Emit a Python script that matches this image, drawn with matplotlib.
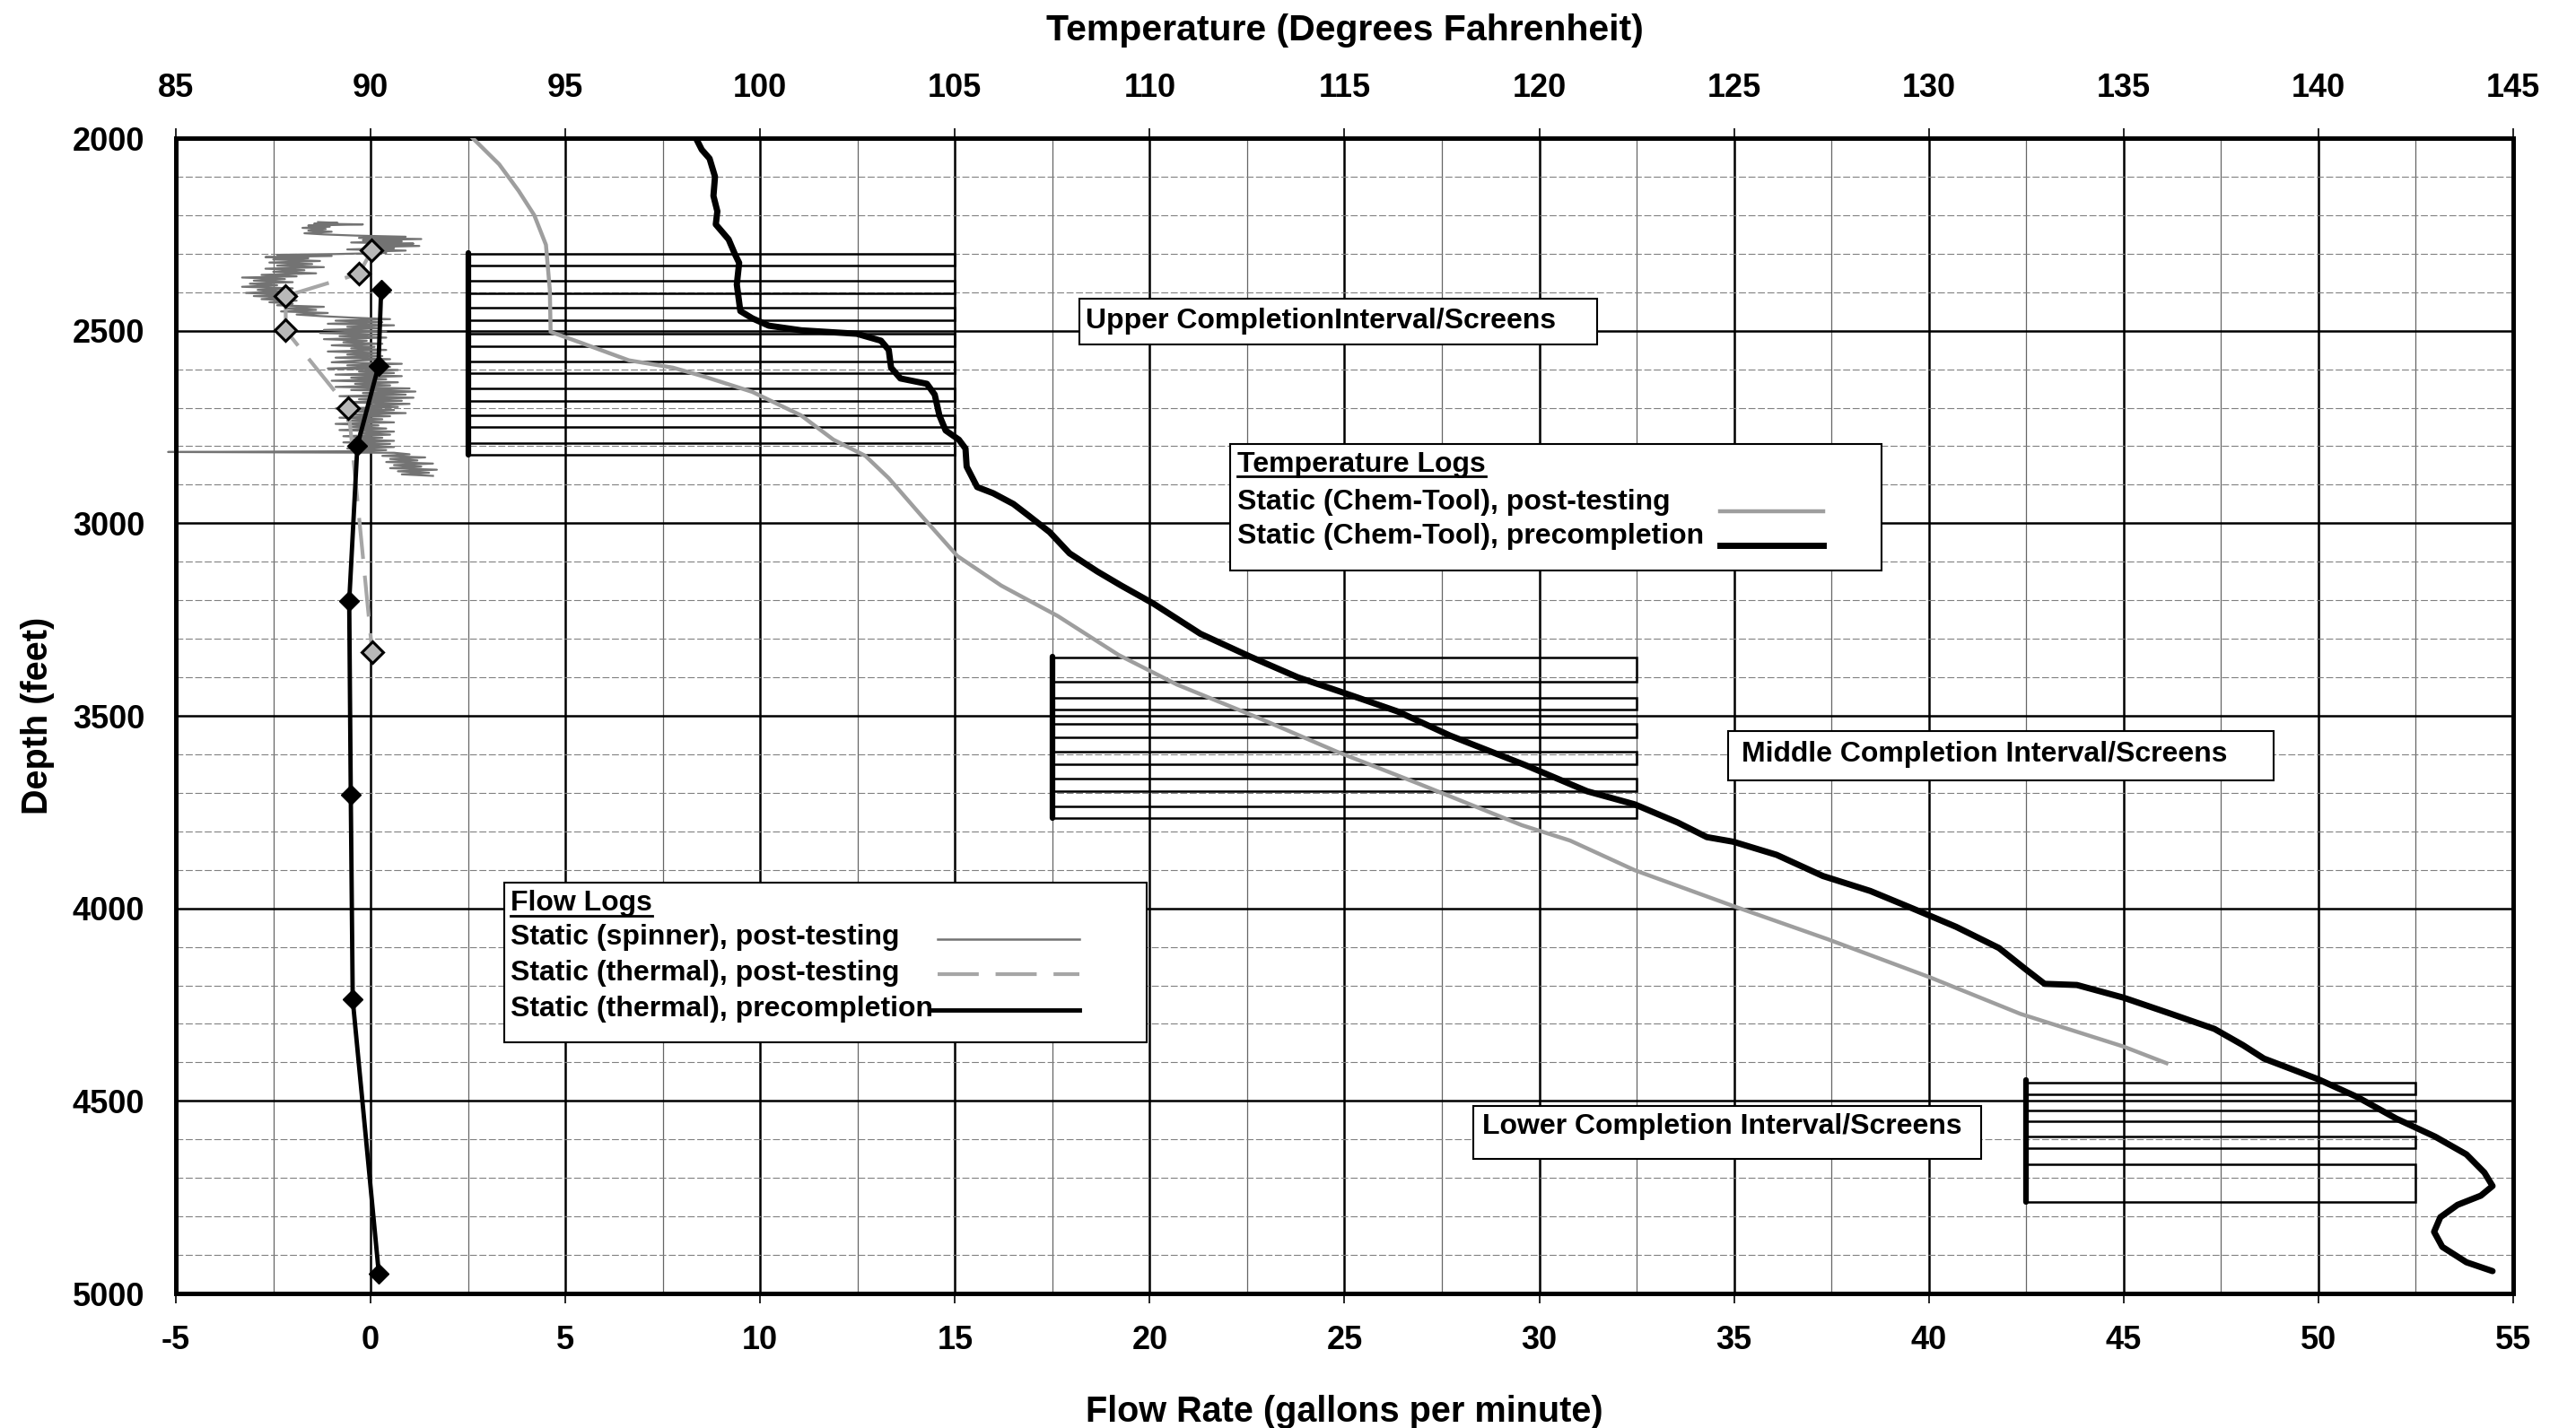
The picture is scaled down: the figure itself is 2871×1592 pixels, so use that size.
"""
Well log chart: flow logs (bottom axis) and temperature logs (top axis)
against depth, with the completion intervals / screens drawn in.
"""

import matplotlib
matplotlib.use('Agg')
import matplotlib.pyplot as plt
from matplotlib.patches import Rectangle

plt.rcParams['font.family'] = ['Liberation Sans', 'DejaVu Sans']
plt.rcParams['font.weight'] = 'bold'
plt.rcParams['axes.unicode_minus'] = False

# ---- flow logs (gallons per minute) ----
spinner_depth = [
    2218, 2220, 2222, 2224, 2227, 2230, 2233, 2236, 2240, 2243, 2247, 2250,
    2253, 2256, 2259, 2262, 2265, 2268, 2271, 2274, 2277, 2280, 2283, 2286,
    2289, 2292, 2295, 2298, 2301, 2303, 2306, 2309, 2312, 2315, 2319, 2323,
    2327, 2331, 2335, 2339, 2343, 2347, 2351, 2355, 2359, 2362, 2366, 2370,
    2374, 2378, 2382, 2386, 2390, 2394, 2398, 2402, 2406, 2410, 2414, 2418,
    2422, 2426, 2430, 2434, 2438, 2442, 2446, 2450, 2454, 2458, 2462, 2466,
    2470, 2474, 2478, 2482, 2486, 2490, 2494, 2498, 2502, 2506, 2510, 2514,
    2518, 2522, 2526, 2530, 2534, 2538, 2542, 2546, 2550, 2554, 2558, 2562,
    2566, 2570, 2574, 2578, 2582, 2586, 2590, 2594, 2598, 2602, 2606, 2610,
    2614, 2618, 2622, 2626, 2630, 2634, 2638, 2642, 2646, 2650, 2654, 2658,
    2662, 2666, 2670, 2674, 2678, 2682, 2686, 2690, 2694, 2698, 2702, 2706,
    2710, 2714, 2718, 2722, 2726, 2730, 2734, 2738, 2742, 2746, 2750, 2754,
    2758, 2762, 2766, 2770, 2774, 2778, 2782, 2786, 2790, 2794, 2798, 2802,
    2806, 2810, 2813, 2815, 2817, 2821, 2825, 2829, 2833, 2837, 2841, 2845,
    2849, 2853, 2857, 2861, 2865, 2869, 2873, 2877,
]
spinner_flow = [
    -1.35, -0.85, -1.45, -0.2, -1.6, -1.05, -1.75, -1.15, -1.6, -1.0, -1.7, -1.2,
    -0.4, 0.9, -0.3, 1.3, -0.2, 0.8, -0.5, 1.1, 0.1, 1.25, -0.1, 0.6,
    -0.6, 0.9, -0.2, 0.4, -0.9, -2.4, -1.0, -2.7, -1.6, -2.5, -1.3, -2.6,
    -1.5, -2.4, -1.2, -2.7, -1.7, -2.5, -1.4, -2.8, -1.9, -3.3, -2.2, -3.0,
    -2.0, -3.1, -2.4, -3.3, -2.0, -2.9, -2.3, -3.2, -1.9, -3.0, -2.1, -2.8,
    -1.9, -2.6, -2.0, -2.4, -1.2, -2.2, -1.4, -2.3, -1.1, -1.9, -1.3, -0.5,
    0.5, -0.9, 0.3, -1.1, 0.6, -0.6, 0.2, -1.2, 0.4, -1.3, 0.2, -0.8,
    0.4, -1.2, -0.1, -0.7, 0.3, -1.0, 0.1, -0.5, 0.4, -1.1, 0.2, -0.6,
    0.3, -0.9, 0.5, -0.4, -1.0, 0.8, -0.6, 0.5, -1.1, 0.7, -0.3, 0.6,
    -0.9, 0.8, -0.5, 0.4, -1.0, 0.7, -0.4, 0.5, -0.9, 1.0, -0.5, 1.15,
    -0.2, 0.9, -0.8, 1.1, -0.3, 0.8, -0.7, 1.0, -0.1, 0.7, -0.9, 0.6,
    -0.4, 0.9, -0.6, 0.5, -0.8, 0.3, -0.6, 0.6, -0.9, 0.2, -0.5, 0.4,
    -0.8, 0.6, -0.3, 0.5, -0.7, 0.3, -0.5, 0.6, -0.7, 0.5, -0.4, 0.6,
    -0.6, 0.4, -0.2, -5.2, 0.6, 1.0, 0.3, 1.4, 0.5, 1.2, 0.4, 1.6,
    0.6, 1.3, 0.5, 1.7, 0.7, 1.5, 0.8, 1.6,
]

thermal_post_depth = [2292, 2352, 2410, 2499, 2701, 3334]
thermal_post_flow = [0.03, -0.30, -2.18, -2.18, -0.57, 0.04]

thermal_pre_depth = [2393, 2592, 2798, 3203, 3706, 4237, 4948]
thermal_pre_flow = [0.27, 0.20, -0.34, -0.55, -0.51, -0.46, 0.21]

# ---- temperature logs (degrees F) ----
temp_post_depth = [
    2000, 2068, 2137, 2200, 2277, 2394, 2503, 2531, 2577, 2596, 2620, 2659,
    2720, 2783, 2825, 2883, 2976, 3085, 3162, 3241, 3342, 3419, 3505, 3593,
    3675, 3784, 3824, 3901, 3994, 4080, 4180, 4274, 4359, 4402,
]
temp_post_temp = [
    92.62, 93.3, 93.8, 94.2, 94.5, 94.6, 94.62, 95.39, 96.63, 97.76, 98.59, 99.8,
    101.05, 101.88, 102.7, 103.3, 104.1, 105.06, 106.19, 107.64, 109.2, 110.7, 112.78, 114.8,
    116.87, 119.55, 120.79, 122.45, 124.98, 127.4, 130.05, 132.35, 135.0, 136.1,
]

temp_pre_depth = [
    2000, 2030, 2053, 2100, 2150, 2190, 2224, 2263, 2301, 2324, 2380, 2449,
    2468, 2487, 2499, 2508, 2526, 2550, 2596, 2624, 2638, 2666, 2720, 2759,
    2783, 2806, 2853, 2906, 2922, 2950, 2981, 3023, 3078, 3125, 3162, 3209,
    3287, 3346, 3400, 3442, 3489, 3551, 3628, 3696, 3730, 3777, 3815, 3827,
    3861, 3916, 3955, 4001, 4048, 4103, 4157, 4196, 4199, 4232, 4274, 4313,
    4355, 4390, 4444, 4490, 4546, 4593, 4639, 4686, 4721, 4746, 4770, 4802,
    4840, 4879, 4919, 4942,
]
temp_pre_temp = [
    98.35, 98.5, 98.7, 98.84, 98.8, 98.9, 98.86, 99.19, 99.35, 99.46, 99.4, 99.49,
    99.8, 100.22, 101.05, 102.48, 103.1, 103.3, 103.36, 103.6, 104.28, 104.48, 104.6, 104.76,
    105.1, 105.27, 105.3, 105.57, 105.98, 106.5, 106.9, 107.43, 107.94, 108.65, 109.27, 110.1,
    111.3, 112.57, 113.8, 115.03, 116.37, 117.7, 119.64, 121.23, 122.45, 123.55, 124.3, 124.98,
    126.09, 127.28, 128.5, 129.6, 130.7, 131.8, 132.47, 132.97, 133.8, 135.0, 136.22, 137.33,
    138.06, 138.6, 140.0, 141.0, 142.0, 143.0, 143.8, 144.26, 144.47, 144.17, 143.57, 143.13,
    142.97, 143.18, 143.8, 144.47,
]

# ---- completion intervals (flow-axis extent, bar top/bottom, screens) ----
upper_extent = (2.5, 15.0)
upper_bar = (2299, 2823)
upper_screens = [(2301, 2331), (2370, 2402), (2441, 2472), (2507, 2540),
                 (2581, 2610), (2649, 2682), (2720, 2751), (2792, 2823)]

middle_extent = (17.5, 32.5)
middle_bar = (3346, 3766)
middle_screens = [(3349, 3412), (3454, 3483), (3522, 3555), (3594, 3625),
                  (3664, 3695), (3735, 3765)]

lower_extent = (42.5, 52.5)
lower_bar = (4446, 4762)
lower_screens = [(4452, 4482), (4524, 4553), (4593, 4623), (4664, 4763)]

TICK_FS = 26
TITLE_FS = 28.5
BOX_FS = 23


def draw_completion(ax, extent, bar, screens):
    x0, x1 = extent
    for top, bottom in screens:
        ax.add_patch(Rectangle((x0, top), x1 - x0, bottom - top, fill=False,
                               ec='black', lw=1.8, zorder=3))
    ax.plot([x0, x0], bar, color='black', lw=4.5, solid_capstyle='round', zorder=3)


def label_box(ax, x0, x1, top, bottom, text, tx, ty):
    ax.add_patch(Rectangle((x0, top), x1 - x0, bottom - top, fc='white',
                           ec='black', lw=1.5, zorder=5))
    ax.text(tx, ty, text, fontsize=BOX_FS, fontweight='bold', ha='left',
            va='center', zorder=6)


def underlined(ax, fig, x, y, text, line_depth):
    t = ax.text(x, y, text, fontsize=BOX_FS, fontweight='bold', ha='left',
                va='center', zorder=6)
    fig.canvas.draw()
    bb = t.get_window_extent().transformed(ax.transData.inverted())
    ax.plot([bb.x0, bb.x1], [line_depth, line_depth], color='black', lw=2,
            zorder=6)


def main():
    fig = plt.figure(figsize=(28.71, 15.92), dpi=100)
    ax = fig.add_axes([196 / 2871, 1 - 1442 / 1592, 2605 / 2871, 1288 / 1592])

    ax.set_xlim(-5, 55)
    ax.set_ylim(5000, 2000)
    ax.set_xticks(range(-5, 56, 5))
    ax.set_xticks([x + 2.5 for x in range(-5, 55, 5)], minor=True)
    ax.set_yticks(range(2000, 5001, 500))
    ax.set_yticks(range(2100, 5000, 100), minor=True)
    ax.set_axisbelow(True)
    ax.grid(which='major', color='black', lw=1.8)
    ax.grid(which='minor', axis='x', color='0.4', lw=0.9)
    ax.grid(which='minor', axis='y', color='0.5', lw=0.8, ls=(0, (7, 2.5)))
    ax.tick_params(which='minor', length=0)
    ax.tick_params(axis='x', which='major', length=8, width=1.2, direction='out',
                   labelsize=TICK_FS, pad=17)
    ax.tick_params(axis='y', which='major', length=0, labelsize=TICK_FS, pad=25)
    for sp in ax.spines.values():
        sp.set_linewidth(3.5)
    for lab in ax.get_xticklabels() + ax.get_yticklabels():
        lab.set_fontweight('bold')

    ax.set_xlabel('Flow Rate (gallons per minute)', fontsize=TITLE_FS,
                  fontweight='bold', labelpad=31)
    ax.set_ylabel('Depth (feet)', fontsize=TITLE_FS, fontweight='bold')
    ax.yaxis.set_label_coords(-0.052, 0.5)

    # completion intervals
    draw_completion(ax, upper_extent, upper_bar, upper_screens)
    draw_completion(ax, middle_extent, middle_bar, middle_screens)
    draw_completion(ax, lower_extent, lower_bar, lower_screens)

    # flow logs
    ax.plot(spinner_flow, spinner_depth, color='0.45', lw=1.6, zorder=4,
            clip_on=False)
    ax.plot(thermal_post_flow, thermal_post_depth, color='0.65', lw=3,
            ls=(0, (11, 4.5)), marker='D', ms=12, mfc='0.72', mec='black',
            mew=2.2, zorder=4)
    ax.plot(thermal_pre_flow, thermal_pre_depth, color='black', lw=3.5,
            marker='D', ms=11, mfc='black', mec='black', zorder=4)

    # temperature logs on the top axis
    ax2 = ax.twiny()
    ax2.set_xlim(85, 145)
    ax2.set_ylim(5000, 2000)
    ax2.set_xticks(range(85, 146, 5))
    ax2.tick_params(axis='x', length=8, width=1.2, direction='out',
                    labelsize=TICK_FS, pad=19)
    for lab in ax2.get_xticklabels():
        lab.set_fontweight('bold')
    for sp in ax2.spines.values():
        sp.set_linewidth(3.5)
    ax2.set_xlabel('Temperature (Degrees Fahrenheit)', fontsize=29.5,
                   fontweight='bold', labelpad=26)
    ax2.plot(temp_post_temp, temp_post_depth, color='0.62', lw=3.2, zorder=4)
    ax2.plot(temp_pre_temp, temp_pre_depth, color='black', lw=5, zorder=4,
             solid_capstyle='round')

    # labels for the completion intervals
    label_box(ax, 18.19, 31.48, 2417, 2536,
              'Upper CompletionInterval/Screens', 18.35, 2476)
    label_box(ax, 34.84, 48.85, 3540, 3668,
              'Middle Completion Interval/Screens', 35.19, 3600)
    label_box(ax, 28.3, 41.34, 4513, 4651,
              'Lower Completion Interval/Screens', 28.53, 4567)

    # temperature legend box
    ax.add_patch(Rectangle((22.06, 2794), 16.72, 329, fc='white', ec='black',
                           lw=1.5, zorder=5))
    underlined(ax, fig, 22.25, 2848, 'Temperature Logs', 2878)
    ax.text(22.25, 2946, 'Static (Chem-Tool), post-testing', fontsize=BOX_FS,
            fontweight='bold', va='center', zorder=6)
    ax.text(22.25, 3034, 'Static (Chem-Tool), precompletion', fontsize=BOX_FS,
            fontweight='bold', va='center', zorder=6)
    ax.plot([34.64, 37.28], [2969, 2969], color='0.62', lw=3.2, zorder=6)
    ax.plot([34.64, 37.28], [3058, 3058], color='black', lw=5, zorder=6)

    # flow legend box
    ax.add_patch(Rectangle((3.43, 3933), 16.49, 415, fc='white', ec='black',
                           lw=1.5, zorder=5))
    underlined(ax, fig, 3.59, 3987, 'Flow Logs', 4019)
    ax.text(3.59, 4075, 'Static (spinner), post-testing', fontsize=BOX_FS,
            fontweight='bold', va='center', zorder=6)
    ax.text(3.59, 4169, 'Static (thermal), post-testing', fontsize=BOX_FS,
            fontweight='bold', va='center', zorder=6)
    ax.text(3.59, 4262, 'Static (thermal), precompletion', fontsize=BOX_FS,
            fontweight='bold', va='center', zorder=6)
    ax.plot([14.55, 18.19], [4080, 4080], color='0.45', lw=1.8, zorder=6)
    ax.plot([14.55, 18.19], [4171, 4171], color='0.65', lw=3,
            ls=(0, (11, 4.5)), zorder=6)
    ax.plot([14.4, 18.19], [4264, 4264], color='black', lw=3.5, zorder=6)

    fig.savefig('out.png', dpi=100)


if __name__ == '__main__':
    main()
